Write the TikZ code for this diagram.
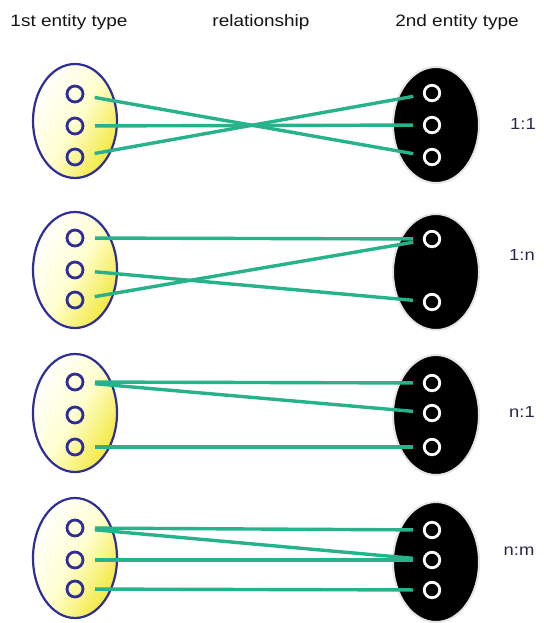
\documentclass[tikz,border=0pt]{standalone}
\usepackage{fontspec}
\setmainfont{Liberation Sans}
\usepackage{graphicx}
\definecolor{linkgreen}{RGB}{38,178,138}
\definecolor{setblue}{RGB}{46,46,150}
\definecolor{setyellow}{RGB}{242,232,60}
\definecolor{labelcol}{RGB}{45,35,75}
\definecolor{headcol}{RGB}{20,20,20}
\tikzset{
  leftset/.style={draw=setblue, line width=2.2pt, left color=white, right color=setyellow, middle color=yellow!18, shading angle=60},
  rightset/.style={draw=black!10, line width=2pt, fill=black},
  lelem/.style={circle, draw=setblue, line width=2.8pt, minimum size=16pt, inner sep=0pt, fill=none},
  relem/.style={circle, draw=white, line width=2.8pt, minimum size=15.5pt, inner sep=0pt, fill=black},
  link/.style={draw=linkgreen, line width=3.4pt, shorten <=20pt, shorten >=19pt},
  head/.style={font=\fontsize{16.5}{18}\selectfont, text=headcol, anchor=base, inner sep=0pt},
  card/.style={font=\fontsize{16}{17}\selectfont, text=labelcol, inner sep=0pt},
}
\newcommand{\hs}[1]{\scalebox{1.15}[1]{#1}}
\begin{document}
\begin{tikzpicture}[x=1pt,y=-1pt]
\useasboundingbox (0,0) rectangle (543,623);

% headers
\node[head] (h1) at (69,26.5) {\hs{1st entity type}};
\node[head] (h2) at (261,26.5) {\hs{relationship}};
\node[head] (h3) at (457,26.5) {\hs{2nd entity type}};

% set ellipses
\path[leftset] (75,121) ellipse [x radius=42, y radius=57];
\path[rightset] (436,125) ellipse [x radius=43, y radius=58];
\path[leftset] (75,270) ellipse [x radius=42, y radius=58];
\path[rightset] (436,272) ellipse [x radius=43, y radius=58];
\path[leftset] (75,413) ellipse [x radius=42, y radius=59];
\path[rightset] (436,415) ellipse [x radius=43, y radius=60];
\path[leftset] (75,558) ellipse [x radius=42, y radius=60];
\path[rightset] (436,562) ellipse [x radius=43, y radius=60];

% row 1 (1:1)
\node[lelem] (a1) at (75,94) {};
\node[lelem] (a2) at (75,126) {};
\node[lelem] (a3) at (75,157) {};
\node[relem] (b1) at (432,93) {};
\node[relem] (b2) at (432,125) {};
\node[relem] (b3) at (432,157) {};
\draw[link] (a1.center) -- (b3.center);
\draw[link] (a2.center) -- (b2.center);
\draw[link] (a3.center) -- (b1.center);
\node[card] (c1) at (523,124) {\hs{1:1}};

% row 2 (1:n)
\node[lelem] (d1) at (75,238) {};
\node[lelem] (d2) at (75,270) {};
\node[lelem] (d3) at (75,300) {};
\node[relem] (e1) at (432,239) {};
\node[relem] (e2) at (432,302) {};
\draw[link] (d1.center) -- (e1.center);
\draw[link] (d2.center) -- (e2.center);
\draw[link] (d3.center) -- (e1.center);
\node[card] (c2) at (522,255) {\hs{1:n}};

% row 3 (n:1)
\node[lelem] (f1) at (75,382) {};
\node[lelem] (f2) at (75,415) {};
\node[lelem] (f3) at (75,447) {};
\node[relem] (g1) at (432,383) {};
\node[relem] (g2) at (432,413) {};
\node[relem] (g3) at (432,447) {};
\draw[link] (f1.center) -- (g1.center);
\draw[link] (f1.center) -- (g2.center);
\draw[link] (f3.center) -- (g3.center);
\node[card] (c3) at (522,412) {\hs{n:1}};

% row 4 (n:m)
\node[lelem] (k1) at (75,528) {};
\node[lelem] (k2) at (75,560) {};
\node[lelem] (k3) at (75,589) {};
\node[relem] (m1) at (432,530) {};
\node[relem] (m2) at (432,560) {};
\node[relem] (m3) at (432,590) {};
\draw[link] (k1.center) -- (m1.center);
\draw[link] (k1.center) -- (m2.center);
\draw[link] (k2.center) -- (m2.center);
\draw[link] (k3.center) -- (m3.center);
\node[card] (c4) at (519,551) {\hs{n:m}};
\end{tikzpicture}
\end{document}
